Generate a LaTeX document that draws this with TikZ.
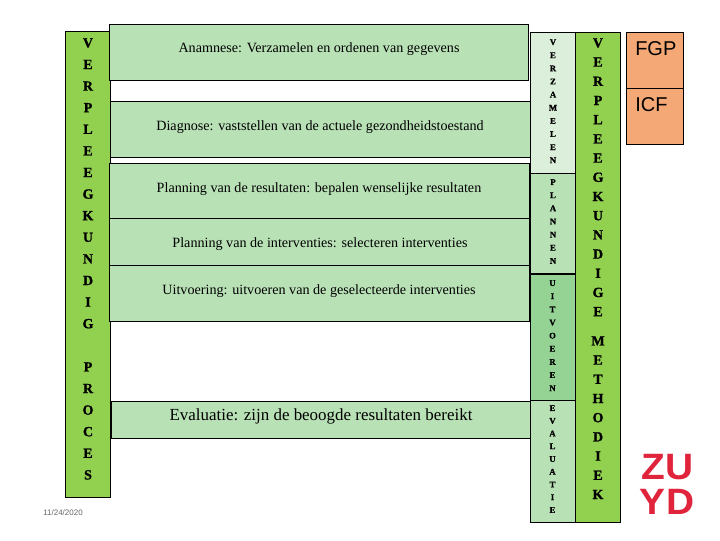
\documentclass[tikz,border=0pt]{standalone}
\usepackage{fontspec}
\setmainfont{Liberation Serif}
\newfontfamily\arialfont{Liberation Sans}
\newfontfamily\logofont[FakeStretch=1.06,LetterSpace=3]{Liberation Sans}
\newfontfamily\heavyfont[BoldFeatures={FakeBold=1.2}]{Liberation Serif}
\definecolor{leftgreen}{HTML}{92D050}
\definecolor{boxgreen}{HTML}{B9E1B6}
\definecolor{palegreen}{HTML}{DCEFDA}
\definecolor{midgreen}{HTML}{94D394}
\definecolor{orangebox}{HTML}{F4A875}
\definecolor{zuydred}{HTML}{E0243C}
\tikzset{
  panel/.style={draw=black,line width=0.8pt},
  steptext/.style={font=\fontsize{10.6}{12}\selectfont,text=black,inner sep=0pt},
  bigletters/.style={anchor=north,align=center,inner sep=0pt,font=\heavyfont\fontsize{10.5}{#1}\selectfont\bfseries},
  smallletters/.style={anchor=north,align=center,inner sep=0pt,font=\heavyfont\fontsize{6.5}{#1}\selectfont\bfseries},
}
\begin{document}
\begin{tikzpicture}[x=0.75pt,y=-0.75pt]
\useasboundingbox (0,0) rectangle (720,540);
% left column
\draw[panel,fill=leftgreen] (65.5,31.5) rectangle (110.5,497.5);
\node[bigletters=16.2] (leftword) at (88,38) {V\\E\\R\\P\\L\\E\\E\\G\\K\\U\\N\\D\\I\\G\\ \\P\\R\\O\\C\\E\\S};
% step boxes
\draw[panel,fill=boxgreen] (110.5,101.5) rectangle (530.5,157.5);
\draw[panel,fill=boxgreen] (109.5,24.5) rectangle (528.5,80.5);
\draw[panel,fill=boxgreen] (109.5,163.5) rectangle (529.5,218.5);
\draw[panel,fill=boxgreen] (109.5,218.5) rectangle (529.5,265.5);
\draw[panel,fill=boxgreen] (109.5,265.5) rectangle (529.5,321.5);
\draw[panel,fill=boxgreen] (111.5,401.5) rectangle (530.5,438.5);
\node[steptext] (anamnese) at (319,49) {Anamnese: Verzamelen en ordenen van gegevens};
\node[steptext] (diagnose) at (320,127) {Diagnose: vaststellen van de actuele gezondheidstoestand};
\node[steptext] (planres) at (319,189) {Planning van de resultaten: bepalen wenselijke resultaten};
\node[steptext] (planint) at (320,244) {Planning van de interventies: selecteren interventies};
\node[steptext] (uitvoering) at (319,291) {Uitvoering: uitvoeren van de geselecteerde interventies};
\node[steptext,font=\fontsize{12.7}{15}\selectfont] (evaluatie) at (321,416) {Evaluatie: zijn de beoogde resultaten bereikt};
% phase column
\draw[panel,fill=palegreen] (530.5,32.5) rectangle (575.5,173.5);
\draw[panel,fill=boxgreen] (530.5,173.5) rectangle (575.5,273.5);
\draw[panel,fill=midgreen] (530.5,274.5) rectangle (575.5,400.5);
\draw[panel,fill=boxgreen] (530.5,400.5) rectangle (575.5,522.5);
\node[smallletters=9.85] (verzamelen) at (553,39) {V\\E\\R\\Z\\A\\M\\E\\L\\E\\N};
\node[smallletters=9.85] (plannen) at (553,179) {P\\L\\A\\N\\N\\E\\N};
\node[smallletters=9.85] (uitvoeren) at (552.5,280) {U\\I\\T\\V\\O\\E\\R\\E\\N};
\node[smallletters=9.55] (evaluatiev) at (552.5,405) {E\\V\\A\\L\\U\\A\\T\\I\\E};
% right column
\draw[panel,fill=leftgreen] (575.5,32.5) rectangle (620.5,522.5);
\node[bigletters=14.4] (vkword) at (598,38) {V\\E\\R\\P\\L\\E\\E\\G\\K\\U\\N\\D\\I\\G\\E};
\node[bigletters=14.4] (methodiek) at (598,336) {M\\E\\T\\H\\O\\D\\I\\E\\K};
% FGP / ICF
\draw[panel,fill=orangebox] (626.5,32.5) rectangle (683.5,88.5);
\draw[panel,fill=orangebox] (626.5,88.5) rectangle (683.5,144.5);
\node[anchor=west,inner sep=0pt,font=\arialfont\fontsize{15}{18}\selectfont] (fgp) at (635,49) {FGP};
\node[anchor=west,inner sep=0pt,font=\arialfont\fontsize{15}{18}\selectfont] (icf) at (635,105) {ICF};
% date and logo
\node[inner sep=0pt,text=black!60,font=\arialfont\fontsize{6}{7}\selectfont] (datum) at (63,513) {11/24/2020};
\node[inner sep=0pt,text=zuydred,font=\logofont\bfseries\fontsize{27.5}{30}\selectfont] (zu) at (667.5,467) {ZU};
\node[inner sep=0pt,text=zuydred,font=\logofont\bfseries\fontsize{27.5}{30}\selectfont] (yd) at (667.5,501.5) {YD};
\end{tikzpicture}
\end{document}
